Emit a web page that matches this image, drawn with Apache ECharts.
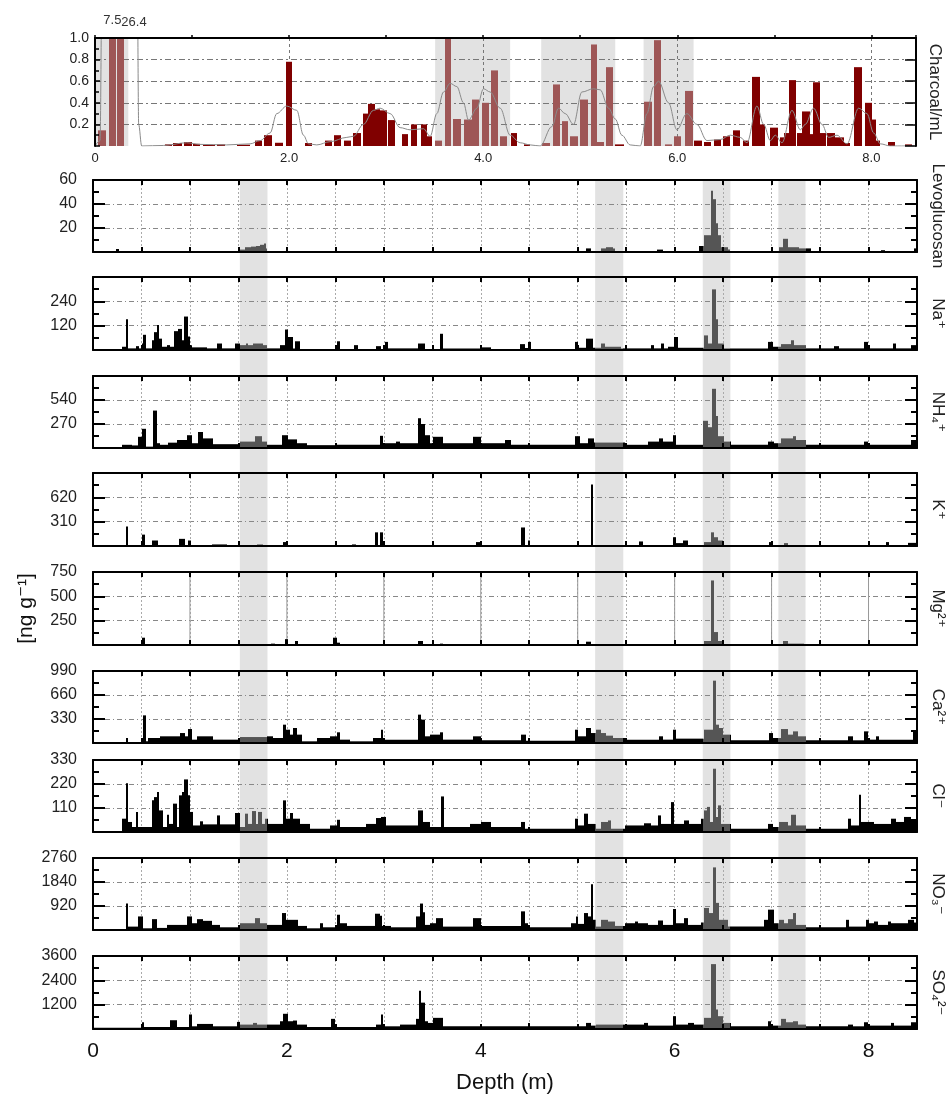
<!DOCTYPE html>
<html>
<head>
<meta charset="utf-8">
<title>Charcoal and ion records vs depth</title>
<script src="https://cdn.jsdelivr.net/npm/echarts@6/dist/echarts.min.js"></script>
<style>
  html, body { margin: 0; background: #fff; }
  #chart { width: 952px; height: 1095px; }
</style>
</head>
<body>
<div id="chart"></div>
<script>
// ---------- data ----------
const depthMax = 8.5;
const charcoalMax = 1.0;

// charcoal bars: [from depth, to depth, particles/mL]
const charcoalBars = [
  [0.034, 0.110, 0.145], [0.144, 0.213, 7.5], [0.230, 0.302, 26.4],
  [0.722, 0.790, 0.015], [0.807, 0.893, 0.028], [0.918, 0.997, 0.037], [1.014, 1.082, 0.02],
  [1.117, 1.237, 0.012], [1.254, 1.340, 0.015], [1.460, 1.598, 0.012], [1.649, 1.718, 0.05],
  [1.742, 1.828, 0.1], [1.856, 1.935, 0.03], [1.966, 2.034, 0.78], [2.165, 2.234, 0.028],
  [2.371, 2.440, 0.05], [2.464, 2.533, 0.1], [2.567, 2.636, 0.05], [2.663, 2.742, 0.12],
  [2.766, 2.818, 0.30], [2.818, 2.887, 0.39], [2.887, 2.938, 0.34], [2.938, 3.007, 0.33],
  [3.024, 3.093, 0.24], [3.162, 3.230, 0.11], [3.254, 3.323, 0.20], [3.361, 3.423, 0.20],
  [3.423, 3.474, 0.09], [3.505, 3.574, 0.05], [3.608, 3.667, 1.0], [3.694, 3.770, 0.25],
  [3.804, 3.883, 0.245], [3.883, 3.952, 0.43], [3.986, 4.055, 0.40], [4.079, 4.148, 0.70],
  [4.169, 4.244, 0.09], [4.285, 4.347, 0.12], [4.416, 4.485, 0.015],
  [4.605, 4.691, 0.028], [4.715, 4.794, 0.57], [4.811, 4.879, 0.23], [4.897, 4.972, 0.09],
  [4.999, 5.075, 0.43], [5.110, 5.178, 0.94], [5.178, 5.247, 0.037], [5.264, 5.336, 0.73],
  [5.361, 5.446, 0.015], [5.660, 5.739, 0.41], [5.763, 5.835, 0.98], [5.869, 5.945, 0.015],
  [5.962, 6.038, 0.09], [6.082, 6.158, 0.51], [6.175, 6.254, 0.05], [6.278, 6.347, 0.037],
  [6.374, 6.450, 0.06], [6.471, 6.546, 0.09], [6.574, 6.649, 0.145], [6.677, 6.735, 0.05],
  [6.770, 6.848, 0.64], [6.855, 6.907, 0.2], [6.952, 7.034, 0.17], [7.055, 7.096, 0.08],
  [7.096, 7.148, 0.12], [7.148, 7.227, 0.61], [7.234, 7.285, 0.12], [7.285, 7.364, 0.32],
  [7.364, 7.398, 0.11], [7.398, 7.474, 0.59], [7.474, 7.536, 0.12], [7.543, 7.629, 0.12],
  [7.629, 7.715, 0.08], [7.715, 7.783, 0.028], [7.825, 7.904, 0.73], [7.938, 8.007, 0.40],
  [8.007, 8.051, 0.245], [8.051, 8.093, 0.05], [8.168, 8.247, 0.037], [8.350, 8.419, 0.015]
];

// smoothed charcoal curve: [depth, value]
const charcoalSmooth = [
  [0, 0], [0.052, 0.05], [0.072, 1.5], [0.258, 10], [0.436, 1.5], [0.45, 0.2], [0.481, 0],
  [0.704, 0.005], [0.945, 0.03], [1.082, 0.015], [1.357, 0.01], [1.598, 0.02], [1.701, 0.05],
  [1.804, 0.12], [1.873, 0.3], [1.976, 0.37], [2.079, 0.33], [2.148, 0.1], [2.2, 0.02],
  [2.285, 0.01], [2.423, 0.04], [2.595, 0.08], [2.663, 0.09], [2.766, 0.2], [2.869, 0.33],
  [2.938, 0.35], [3.041, 0.3], [3.144, 0.17], [3.247, 0.15], [3.385, 0.16], [3.454, 0.09],
  [3.522, 0.3], [3.591, 0.5], [3.660, 0.58], [3.729, 0.55], [3.797, 0.4], [3.849, 0.24],
  [3.935, 0.35], [4.003, 0.53], [4.072, 0.5], [4.175, 0.35], [4.278, 0.1], [4.381, 0.03],
  [4.485, 0.01], [4.587, 0], [4.708, 0.18], [4.776, 0.35], [4.845, 0.3], [4.931, 0.2],
  [5.017, 0.5], [5.137, 0.53], [5.206, 0.52], [5.292, 0.35], [5.361, 0.25], [5.429, 0.1],
  [5.515, 0.01], [5.618, 0], [5.687, 0.3], [5.756, 0.55], [5.807, 0.6], [5.910, 0.4],
  [5.996, 0.15], [6.099, 0.3], [6.202, 0.2], [6.306, 0.05], [6.443, 0.06], [6.546, 0.1],
  [6.649, 0.08], [6.718, 0.03], [6.821, 0.37], [6.890, 0.2], [6.959, 0.05], [7.010, 0.1],
  [7.079, 0.03], [7.182, 0.33], [7.268, 0.15], [7.319, 0.2], [7.405, 0.35], [7.491, 0.2],
  [7.560, 0.08], [7.646, 0.1], [7.749, 0.02], [7.869, 0.35], [7.955, 0.3], [8.024, 0.12],
  [8.093, 0.02], [8.196, 0], [8.44, 0]
];

// shaded depth intervals
const charcoalBands = [[0, 0.343], [3.505, 4.278], [4.598, 5.361], [5.653, 6.168]];
const ionBands = [[1.515, 1.80], [5.18, 5.47], [6.29, 6.575], [7.07, 7.35]];

// ion panels (ng/g): each entry [depth where value starts, value]
const levo = [[0,0],[0.24,2.5],[0.27,0],[1.52,2],[1.57,4],[1.63,4.5],[1.68,5],[1.72,6],[1.76,7],[1.785,3],[1.80,0],
  [5.09,3],[5.14,0],[5.24,3],[5.29,4],[5.36,3],[5.38,0],[5.82,2],[5.88,0],[6.255,5],[6.305,14],[6.375,51],[6.40,44],
  [6.43,24],[6.45,14],[6.48,4],[6.55,2],[6.575,0],[7.08,4],[7.115,11],[7.165,4],[7.285,3],[7.405,0],[8.13,1.5],[8.165,0],[8.47,3]];

const na = [[0,0],[0.295,16],[0.34,152],[0.364,8],[0.443,19],[0.478,8],[0.502,32],[0.519,75],[0.546,8],[0.605,48],
  [0.632,88],[0.656,123],[0.68,56],[0.715,16],[0.759,24],[0.794,16],[0.835,93],[0.88,104],[0.914,48],[0.941,165],
  [0.976,67],[1.0,24],[1.024,13],[1.172,8],[1.275,32],[1.326,8],[1.464,32],[1.515,24],[1.574,32],[1.60,24],[1.653,32],
  [1.756,24],[1.79,8],[1.928,24],[1.979,101],[2.014,64],[2.065,8],[2.082,43],[2.134,5],[2.512,43],[2.546,5],[2.694,24],
  [2.735,5],[2.924,19],[2.976,5],[3.01,40],[3.045,8],[3.354,32],[3.423,5],[3.58,80],[3.612,8],[4.005,13],[4.108,5],
  [4.40,29],[4.452,10],[4.486,40],[4.52,5],[4.967,40],[5.0,11],[5.087,56],[5.156,11],[5.242,32],[5.283,16],[5.45,8],
  [5.758,24],[5.792,8],[5.86,32],[5.888,8],[5.93,16],[5.998,64],[6.033,11],[6.30,72],[6.342,32],[6.39,299],[6.424,152],
  [6.445,32],[6.507,8],[6.96,40],[7.012,16],[7.098,29],[7.20,48],[7.235,24],[7.355,8],[7.648,19],[7.70,8],[7.957,40],
  [7.99,8],[8.249,32],[8.283,8],[8.438,24]];

const nh4 = [[0,0],[0.295,36],[0.398,29],[0.467,126],[0.502,216],[0.543,15],[0.622,421],[0.656,54],[0.691,36],[0.776,60],
  [0.862,90],[0.965,144],[1.017,54],[1.086,180],[1.137,108],[1.24,43],[1.515,72],[1.67,133],[1.739,72],[1.79,36],
  [1.945,144],[2.014,97],[2.10,54],[2.203,32],[2.512,36],[2.959,137],[2.993,54],[3.13,72],[3.165,54],[3.354,335],
  [3.388,270],[3.423,144],[3.474,54],[3.509,126],[3.612,54],[3.921,126],[4.005,54],[4.245,90],[4.314,36],[4.967,133],
  [5.019,54],[5.105,108],[5.173,61],[5.483,36],[5.723,72],[5.843,108],[5.878,72],[5.981,144],[6.015,36],[6.29,306],
  [6.342,234],[6.386,666],[6.428,360],[6.452,133],[6.514,72],[6.582,36],[6.96,72],[7.029,54],[7.098,108],[7.218,133],
  [7.252,90],[7.355,36],[7.957,72],[7.99,36],[8.438,90]];

const kp = [[0,0],[0.34,248],[0.364,0],[0.502,145],[0.536,0],[0.605,70],[0.673,8],[0.89,91],[0.948,8],[0.983,70],
  [1.007,0],[1.223,20],[1.378,0],[1.687,20],[1.756,0],[1.962,50],[2.014,0],[2.667,20],[2.718,0],[2.907,174],[2.942,0],
  [2.959,174],[2.993,0],[3.95,50],[3.99,0],[4.417,236],[4.459,0],[4.486,70],[4.51,0],[5.132,785],[5.156,5],[5.637,58],
  [5.672,0],[5.981,112],[6.015,37],[6.084,70],[6.136,5],[6.30,50],[6.376,174],[6.41,112],[6.445,70],[6.497,0],
  [6.977,50],[7.012,0],[7.132,37],[7.167,0],[8.18,50],[8.214,0],[8.403,40]];

const mg = [[0,0],[0.502,75],[0.536,0],[1.839,14],[1.874,0],[1.979,60],[2.014,0],[2.08,41],[2.115,0],[2.478,75],
  [2.512,24],[2.546,0],[3.354,41],[3.405,0],[3.474,10],[3.509,0],[3.577,14],[3.612,0],[5.087,34],[5.139,0],[5.242,10],
  [5.276,0],[6.307,41],[6.376,663],[6.41,133],[6.452,41],[6.514,0],[7.115,41],[7.167,14],[7.338,0],[8.232,10],
  [8.266,0],[8.438,10],[8.472,0]];

const ca = [[0,0],[0.34,69],[0.364,10],[0.519,380],[0.543,23],[0.57,69],[0.691,92],[0.897,137],[0.948,92],[0.983,192],
  [1.017,46],[1.069,92],[1.24,46],[1.515,82],[1.79,92],[1.859,69],[1.962,252],[1.996,183],[2.031,115],[2.065,206],
  [2.10,115],[2.151,23],[2.306,69],[2.443,92],[2.512,147],[2.546,46],[2.649,23],[2.890,69],[2.976,183],[2.993,46],
  [3.354,390],[3.388,321],[3.423,92],[3.474,115],[3.577,147],[3.612,46],[3.921,92],[4.005,37],[4.417,115],[4.469,32],
  [4.967,183],[5.0,92],[5.087,206],[5.139,137],[5.19,183],[5.242,137],[5.294,101],[5.362,69],[5.483,46],[5.843,92],
  [5.878,46],[5.981,183],[6.015,60],[6.307,183],[6.393,857],[6.428,252],[6.462,206],[6.497,115],[6.582,37],[6.977,137],
  [7.012,69],[7.098,192],[7.167,115],[7.218,160],[7.27,92],[7.355,37],[7.785,92],[7.836,37],[7.957,160],[7.99,46],
  [8.077,92],[8.111,46],[8.455,160]];

const cl = [[0,0],[0.295,61],[0.34,224],[0.364,46],[0.398,23],[0.443,92],[0.467,23],[0.605,145],[0.632,160],[0.656,183],
  [0.68,99],[0.725,23],[0.759,79],[0.783,37],[0.828,130],[0.862,23],[0.89,168],[0.914,183],[0.941,241],[0.976,168],
  [1.0,92],[1.034,30],[1.103,49],[1.137,35],[1.275,76],[1.309,35],[1.464,87],[1.515,23],[1.567,84],[1.601,37],
  [1.643,96],[1.68,37],[1.704,92],[1.739,37],[1.773,61],[1.807,37],[1.962,145],[1.996,61],[2.031,87],[2.065,61],
  [2.134,37],[2.237,15],[2.443,30],[2.512,56],[2.546,23],[2.821,37],[2.924,64],[2.976,69],[3.027,30],[3.354,99],
  [3.405,46],[3.474,23],[3.594,163],[3.622,23],[3.887,37],[4.005,46],[4.108,23],[4.417,46],[4.452,15],[4.967,61],
  [5.0,30],[5.07,84],[5.105,37],[5.19,15],[5.242,46],[5.311,53],[5.345,15],[5.483,30],[5.689,40],[5.758,30],[5.826,76],
  [5.86,37],[5.964,137],[5.998,37],[6.101,53],[6.153,37],[6.273,61],[6.30,99],[6.335,115],[6.369,46],[6.393,290],
  [6.428,69],[6.452,122],[6.479,37],[6.582,15],[6.96,37],[7.012,23],[7.081,46],[7.167,30],[7.201,79],[7.252,30],
  [7.355,15],[7.785,61],[7.819,30],[7.898,171],[7.922,46],[8.06,37],[8.232,61],[8.283,46],[8.369,69],[8.438,55]];

const no3 = [[0,0],[0.34,1014],[0.364,130],[0.467,520],[0.519,65],[0.605,416],[0.656,80],[0.759,195],[0.965,520],
  [1.017,260],[1.069,416],[1.137,351],[1.223,195],[1.309,104],[1.515,260],[1.67,455],[1.722,260],[1.79,195],[1.945,650],
  [1.996,390],[2.117,156],[2.203,65],[2.340,260],[2.375,104],[2.512,585],[2.546,260],[2.615,156],[2.907,624],[2.959,546],
  [2.986,156],[3.079,104],[3.337,520],[3.371,1014],[3.399,676],[3.423,195],[3.474,260],[3.543,455],[3.612,130],
  [3.921,455],[4.005,156],[4.417,715],[4.452,260],[4.486,104],[4.933,260],[4.984,520],[5.0,234],[5.07,650],[5.105,520],
  [5.132,1755],[5.156,390],[5.19,130],[5.242,390],[5.311,325],[5.38,156],[5.483,260],[5.586,325],[5.62,260],[5.723,195],
  [5.826,364],[5.878,195],[5.981,806],[6.015,260],[6.101,455],[6.136,195],[6.273,286],[6.307,845],[6.352,650],
  [6.393,2400],[6.428,1040],[6.462,390],[6.548,130],[6.925,390],[6.967,780],[7.022,260],[7.081,390],[7.132,260],
  [7.167,416],[7.218,650],[7.252,195],[7.355,104],[7.768,390],[7.802,130],[7.974,390],[8.008,260],[8.06,325],
  [8.094,195],[8.197,325],[8.232,260],[8.403,390],[8.472,286]];

const so4 = [[0,60],[0.502,333],[0.526,100],[0.794,433],[0.862,100],[0.993,717],[1.017,133],[1.069,250],[1.24,133],
  [1.481,350],[1.515,217],[1.653,300],[1.687,217],[1.928,383],[1.962,750],[2.014,383],[2.065,417],[2.10,217],[2.203,100],
  [2.46,500],[2.495,100],[2.924,217],[2.976,717],[2.993,133],[3.165,217],[3.33,500],[3.364,1883],[3.388,1300],
  [3.423,383],[3.457,300],[3.509,550],[3.612,133],[4.486,300],[4.503,133],[5.087,300],[5.139,167],[5.19,217],
  [5.689,300],[5.723,167],[5.981,633],[6.015,217],[6.136,300],[6.204,217],[6.307,550],[6.376,3200],[6.428,967],
  [6.452,633],[6.497,300],[6.582,133],[6.96,383],[6.995,167],[7.098,500],[7.149,333],[7.218,383],[7.269,217],
  [7.355,133],[7.785,217],[7.836,133],[7.957,333],[7.99,167],[8.232,300],[8.266,167],[8.438,333]];

const ionSteps = [levo, na, nh4, kp, mg, ca, cl, no3, so4];
const ionNames = ['Levoglucosan', 'Na⁺', 'NH₄⁺', 'K⁺', 'Mg²⁺', 'Ca²⁺', 'Cl⁻', 'NO₃⁻', 'SO₄²⁻'];
const ionMax = [60, 360, 810, 930, 750, 990, 330, 2760, 3600];
const ionTopLabel = [true, false, false, false, true, true, true, true, true];
const mgGuides = [1, 2, 3, 4, 5, 6, 7, 8];

// ---------- layout ----------
const FONT = '"Liberation Sans", Arial, "DejaVu Sans", sans-serif';
const INK = '#222';
const panelTop = [180, 277, 376, 473, 572, 671, 760, 858, 956];
const panelHeight = [72, 73, 72, 73, 73, 72, 72, 72, 73];
const panelLeft = 93, panelWidth = 824;

function rectsFromSteps(steps, end) {
  return steps.map((p, i) => [p[0], i + 1 < steps.length ? steps[i + 1][0] : end, p[1]]);
}

function splitByBands(x0, x1, bands) {
  const cuts = [x0, x1];
  bands.forEach(b => b.forEach(e => { if (e > x0 && e < x1) cuts.push(e); }));
  cuts.sort((a, b) => a - b);
  const out = [];
  for (let i = 0; i < cuts.length - 1; i++) {
    const mid = (cuts[i] + cuts[i + 1]) / 2;
    out.push([cuts[i], cuts[i + 1], bands.some(b => mid > b[0] && mid < b[1])]);
  }
  return out;
}

function barRenderer(bands, colOut, colIn, yMax, extra) {
  return function (params, api) {
    const x0 = api.value(0), x1 = api.value(1), v = api.value(2);
    if (!(v > 0)) return null;
    const children = [];
    splitByBands(x0, x1, bands).forEach(([a, b, inside]) => {
      const p0 = api.coord([a, Math.min(v, yMax)]);
      const p1 = api.coord([b, 0]);
      const l = Math.round(p0[0]), r = Math.round(p1[0]);
      if (r <= l) return;
      children.push({
        type: 'rect',
        shape: { x: l, y: p0[1], width: r - l, height: p1[1] - p0[1] },
        style: { fill: inside ? colIn : colOut }
      });
    });
    if (extra) {
      const t = extra(params.dataIndex, v, api);
      if (t) children.push(t);
    }
    return { type: 'group', children };
  };
}

function bandRenderer(yMax) {
  return function (params, api) {
    const p0 = api.coord([api.value(0), yMax]);
    const p1 = api.coord([api.value(1), 0]);
    return { type: 'rect', shape: { x: p0[0], y: p0[1], width: p1[0] - p0[0], height: p1[1] - p0[1] }, style: { fill: '#e2e2e2' } };
  };
}

const overflowIdx = charcoalBars.map((b, i) => (b[2] > charcoalMax ? i : -1)).filter(i => i >= 0);
function overflowLabel(idx, v, api) {
  const k = overflowIdx.indexOf(idx);
  if (k < 0) return null;
  const b = charcoalBars[idx];
  const left = api.coord([b[0], charcoalMax]);
  const cx = api.coord([(b[0] + b[1]) / 2, charcoalMax])[0];
  return {
    type: 'text',
    style: {
      text: String(v), x: k === 0 ? cx : left[0] + 4, y: left[1] - 11 + k * 2,
      align: k === 0 ? 'center' : 'left', verticalAlign: 'bottom',
      fill: '#333', font: '13px ' + FONT
    }
  };
}

const black = { color: '#000', width: 2 };
const grid = [], xAxis = [], yAxis = [], series = [];

// ---------- charcoal panel ----------
grid.push({ left: 95, top: 38, width: 821, height: 108, outerBoundsMode: 'none' });
const topMax = 8.46;
xAxis.push({
  gridIndex: 0, type: 'value', min: 0, max: topMax, interval: 2, z: 1,
  axisLine: { show: false, onZero: false }, axisTick: { show: false },
  axisLabel: { fontSize: 13, color: INK, fontFamily: FONT, margin: 6,
    formatter: v => (Math.abs(v % 2) < 1e-6 ? (v === 0 ? '0' : v.toFixed(1)) : '') },
  splitLine: { show: true, showMinLine: false, showMaxLine: false, lineStyle: { color: '#777', width: 1, type: [3, 3] } }
});
xAxis.push({
  gridIndex: 0, type: 'value', min: 0, max: topMax, interval: 1, z: 5,
  axisLine: { show: true, onZero: false, lineStyle: black },
  axisTick: { show: true, length: 3, lineStyle: { color: '#000', width: 1.5 } },
  axisLabel: { show: false }, splitLine: { show: false }
});
yAxis.push({
  gridIndex: 0, type: 'value', min: 0, max: charcoalMax, interval: 0.2, z: 1,
  axisLine: { show: false, onZero: false }, axisTick: { show: false }, axisLabel: { show: false },
  splitLine: { show: true, showMinLine: false, showMaxLine: false, lineStyle: { color: '#777', width: 1, type: [6, 3, 2, 3] } }
});
yAxis.push({
  gridIndex: 0, type: 'value', min: 0, max: charcoalMax, interval: 0.2, z: 5, position: 'left',
  axisLine: { show: true, onZero: false, lineStyle: black },
  axisTick: { show: true, inside: true, length: 5, lineStyle: { color: '#000', width: 1.5 } },
  minorTick: { show: true, splitNumber: 2, length: 4, lineStyle: { color: '#000', width: 1.5 } },
  axisLabel: { fontSize: 14, color: INK, fontFamily: FONT, margin: 6, formatter: v => (v === 0 ? '' : v.toFixed(1)) },
  splitLine: { show: false }
});
yAxis.push({
  gridIndex: 0, type: 'value', min: 0, max: charcoalMax, interval: 0.2, z: 5, position: 'right',
  axisLine: { show: true, onZero: false, lineStyle: black },
  axisTick: { show: true, inside: true, length: 11, lineStyle: { color: '#000', width: 1.5 } },
  axisLabel: { show: false }, splitLine: { show: false },
  name: 'Charcoal/mL', nameLocation: 'middle', nameRotate: -90, nameGap: 10,
  nameTextStyle: { fontSize: 17, color: INK, fontFamily: FONT }
});
series.push({
  type: 'custom', xAxisIndex: 0, yAxisIndex: 0, z: 0, silent: true,
  renderItem: bandRenderer(charcoalMax), data: charcoalBands
});
series.push({
  type: 'custom', xAxisIndex: 0, yAxisIndex: 0, z: 2, silent: true,
  renderItem: barRenderer(charcoalBands, '#800000', '#9e5656', charcoalMax, overflowLabel),
  data: charcoalBars
});
series.push({
  type: 'line', xAxisIndex: 0, yAxisIndex: 0, z: 3, silent: true, data: charcoalSmooth,
  smooth: 0.35, smoothMonotone: 'x', showSymbol: false, clip: true,
  lineStyle: { color: '#8a8a8a', width: 1 }
});

// ---------- ion panels ----------
ionSteps.forEach((steps, i) => {
  const g = grid.length;
  const last = i === ionSteps.length - 1;
  const yMax = ionMax[i];
  grid.push({ left: panelLeft, top: panelTop[i], width: panelWidth, height: panelHeight[i], outerBoundsMode: 'none' });
  const xi = xAxis.length, yi = yAxis.length;
  xAxis.push({
    gridIndex: g, type: 'value', min: 0, max: depthMax, interval: 0.5, z: 1,
    axisLine: { show: false, onZero: false }, axisTick: { show: false }, axisLabel: { show: false },
    splitLine: { show: true, showMinLine: false, showMaxLine: false, lineStyle: { color: '#aaa', width: 1, type: [2, 2] } }
  });
  xAxis.push({
    gridIndex: g, type: 'value', min: 0, max: depthMax, interval: 0.5, z: 5, position: 'bottom',
    axisLine: { show: true, onZero: false, lineStyle: black },
    axisTick: { show: true, inside: true, length: 5, lineStyle: { color: '#000', width: 2 } },
    axisLabel: { show: last, fontSize: 21, color: '#111', fontFamily: FONT, margin: 12,
      formatter: v => (Math.abs(v % 2) < 1e-6 ? String(v) : '') },
    splitLine: { show: false },
    name: last ? 'Depth (m)' : '', nameLocation: 'middle', nameGap: 43,
    nameTextStyle: { fontSize: 22, color: '#111', fontFamily: FONT }
  });
  xAxis.push({
    gridIndex: g, type: 'value', min: 0, max: depthMax, interval: 0.5, z: 5, position: 'top',
    axisLine: { show: true, onZero: false, lineStyle: black },
    axisTick: { show: true, inside: true, length: 5, lineStyle: { color: '#000', width: 2 } },
    axisLabel: { show: false }, splitLine: { show: false }
  });
  yAxis.push({
    gridIndex: g, type: 'value', min: 0, max: yMax, interval: yMax / 3, z: 1,
    axisLine: { show: false, onZero: false }, axisTick: { show: false }, axisLabel: { show: false },
    splitLine: { show: true, showMinLine: false, showMaxLine: false, lineStyle: { color: '#888', width: 1, type: [5, 3, 1, 3] } }
  });
  yAxis.push({
    gridIndex: g, type: 'value', min: 0, max: yMax, interval: yMax / 3, z: 5, position: 'left',
    axisLine: { show: true, onZero: false, lineStyle: black },
    axisTick: { show: true, inside: true, length: 12, lineStyle: { color: '#000', width: 2 } },
    minorTick: { show: true, splitNumber: 2, length: 6, lineStyle: { color: '#000', width: 2 } },
    axisLabel: { fontSize: 16, color: INK, fontFamily: FONT, margin: 16,
      formatter: v => (v === 0 || (v >= yMax && !ionTopLabel[i]) ? '' : String(Math.round(v))) },
    splitLine: { show: false },
    name: i === 4 ? '[ng g⁻¹]' : '', nameLocation: 'middle', nameRotate: 90, nameGap: 56,
    nameTextStyle: { fontSize: 21, color: '#111', fontFamily: FONT }
  });
  yAxis.push({
    gridIndex: g, type: 'value', min: 0, max: yMax, interval: yMax / 3, z: 5, position: 'right',
    axisLine: { show: true, onZero: false, lineStyle: black },
    axisTick: { show: true, inside: true, length: 12, lineStyle: { color: '#000', width: 2 } },
    minorTick: { show: true, splitNumber: 2, length: 6, lineStyle: { color: '#000', width: 2 } },
    axisLabel: { show: false }, splitLine: { show: false },
    name: ionNames[i], nameLocation: 'middle', nameRotate: -90, nameGap: 12,
    nameTextStyle: { fontSize: 17, color: INK, fontFamily: FONT }
  });
  if (i === 4) {
    series.push({
      type: 'custom', xAxisIndex: xi, yAxisIndex: yi, z: 2, silent: true, data: mgGuides.map(d => [d]),
      renderItem: (params, api) => {
        const a = api.coord([api.value(0), 0]), b = api.coord([api.value(0), yMax]);
        return { type: 'line', shape: { x1: a[0], y1: a[1], x2: b[0], y2: b[1] }, style: { stroke: '#999', lineWidth: 1 } };
      }
    });
  }
  series.push({
    type: 'custom', xAxisIndex: xi, yAxisIndex: yi, z: 3, silent: true,
    renderItem: barRenderer(ionBands, '#000', '#555', yMax, null),
    data: rectsFromSteps(steps, depthMax)
  });
});

// shaded bands running through all ion panels
const og = grid.length;
grid.push({ left: panelLeft, top: panelTop[0], width: panelWidth,
  height: panelTop[8] + panelHeight[8] - panelTop[0], outerBoundsMode: 'none' });
const oxi = xAxis.length, oyi = yAxis.length;
xAxis.push({ gridIndex: og, type: 'value', min: 0, max: depthMax, show: false });
yAxis.push({ gridIndex: og, type: 'value', min: 0, max: 1, show: false });
series.push({
  type: 'custom', xAxisIndex: oxi, yAxisIndex: oyi, z: 0, silent: true,
  renderItem: bandRenderer(1), data: ionBands
});

const chart = echarts.init(document.getElementById('chart'));
chart.setOption({
  animation: false,
  backgroundColor: '#fff',
  textStyle: { fontFamily: FONT },
  grid, xAxis, yAxis, series
});
window.addEventListener('resize', () => chart.resize());
</script>
</body>
</html>
